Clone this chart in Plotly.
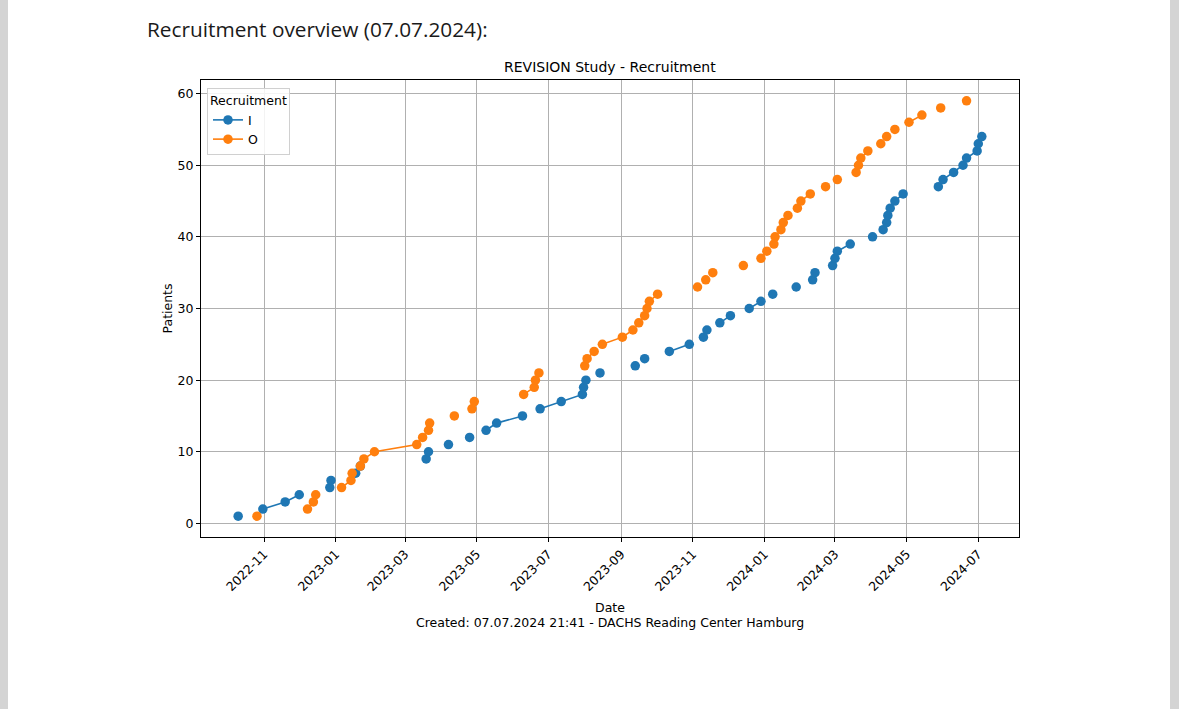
import pandas as pd
import plotly.graph_objects as go

# ---------------- data ----------------
series_names = ["I", "O"]
series_colors = ["#1f77b4", "#ff7f0e"]

dates_I = [
    "2022-10-10", "2022-10-31", "2022-11-19", "2022-12-01", "2022-12-27", "2022-12-28",
    "2023-01-18", "2023-01-22", "2023-03-19", "2023-03-21", "2023-04-07", "2023-04-25",
    "2023-05-09", "2023-05-18", "2023-06-09", "2023-06-24", "2023-07-12", "2023-07-30",
    "2023-07-31", "2023-08-02", "2023-08-14", "2023-09-13", "2023-09-21", "2023-10-12",
    "2023-10-29", "2023-11-10", "2023-11-13", "2023-11-24", "2023-12-03", "2023-12-19",
    "2023-12-29", "2024-01-08", "2024-01-28", "2024-02-11", "2024-02-13", "2024-02-28",
    "2024-03-01", "2024-03-03", "2024-03-14", "2024-04-02", "2024-04-11", "2024-04-14",
    "2024-04-15", "2024-04-17", "2024-04-21", "2024-04-28", "2024-05-28", "2024-06-01",
    "2024-06-10", "2024-06-18", "2024-06-21", "2024-06-30", "2024-07-01", "2024-07-04",
]
patients_I = [
    1, 2, 3, 4, 5, 6, 7, 8, 9, 10, 11, 12, 13, 14, 15, 16, 17, 18,
    19, 20, 21, 22, 23, 24, 25, 26, 27, 28, 29, 30, 31, 32, 33, 34, 35, 36,
    37, 38, 39, 40, 41, 42, 43, 44, 45, 46, 47, 48, 49, 50, 51, 52, 53, 54,
]

dates_O = [
    "2022-10-26", "2022-12-08", "2022-12-13", "2022-12-15", "2023-01-06", "2023-01-14",
    "2023-01-15", "2023-01-22", "2023-01-25", "2023-02-03", "2023-03-11", "2023-03-16",
    "2023-03-21", "2023-03-22", "2023-04-12", "2023-04-27", "2023-04-29", "2023-06-10",
    "2023-06-19", "2023-06-20", "2023-06-23", "2023-08-01", "2023-08-03", "2023-08-09",
    "2023-08-16", "2023-09-02", "2023-09-11", "2023-09-16", "2023-09-21", "2023-09-23",
    "2023-09-25", "2023-10-02", "2023-11-05", "2023-11-12", "2023-11-18", "2023-12-14",
    "2023-12-29", "2024-01-03", "2024-01-09", "2024-01-10", "2024-01-15", "2024-01-17",
    "2024-01-21", "2024-01-29", "2024-02-01", "2024-02-09", "2024-02-22", "2024-03-03",
    "2024-03-19", "2024-03-21", "2024-03-23", "2024-03-29", "2024-04-09", "2024-04-14",
    "2024-04-21", "2024-05-03", "2024-05-14", "2024-05-30", "2024-06-21",
]
patients_O = [
    1, 2, 3, 4, 5, 6, 7, 8, 9, 10, 11, 12, 13, 14, 15, 16, 17, 18,
    19, 20, 21, 22, 23, 24, 25, 26, 27, 28, 29, 30, 31, 32, 33, 34, 35, 36,
    37, 38, 39, 40, 41, 42, 43, 44, 45, 46, 47, 48, 49, 50, 51, 52, 53, 54,
    55, 56, 57, 58, 59,
]

tick_labels = ["2022-11", "2023-01", "2023-03", "2023-05", "2023-07", "2023-09",
               "2023-11", "2024-01", "2024-03", "2024-05", "2024-07"]
y_ticks = [0, 10, 20, 30, 40, 50, 60]

page_heading = "Recruitment overview (07.07.2024):"
chart_title = "REVISION Study - Recruitment"
footer_text = "Created: 07.07.2024 21:41 - DACHS Reading Center Hamburg"

# ---------------- build table (pivot on the union of dates) ----------------
all_dates_raw = {"I": dates_I, "O": dates_O}
all_vals = {"I": patients_I, "O": patients_O}
union = sorted(set(pd.to_datetime(dates_I)) | set(pd.to_datetime(dates_O)))
table = pd.DataFrame(index=pd.DatetimeIndex(union))
for name in series_names:
    s = pd.Series(all_vals[name], index=pd.to_datetime(all_dates_raw[name]))
    table[name] = s.reindex(table.index)

# ---------------- layout geometry ----------------
W, H = 1179, 709
L, R, T, B = 201, 1019, 80, 537
pw, ph = R - L, B - T

def px(x):
    return (x - L) / pw

def py(y):
    return (B - y) / ph

font_mpl = "DejaVu Sans"

fig = go.Figure()
for name, color in zip(series_names, series_colors):
    col = table[name]
    fig.add_trace(go.Scatter(
        x=table.index,
        y=[None if pd.isna(v) else v for v in col],
        mode="lines+markers",
        name=name,
        connectgaps=False,
        line=dict(color=color, width=1.6),
        marker=dict(color=color, size=9.5),
    ))

# axis ranges with 5% margins like matplotlib
dmin, dmax = table.index.min(), table.index.max()
span = dmax - dmin
x_range = [dmin - 0.05 * span, dmax + 0.05 * span]
all_y = patients_I + patients_O
ymin, ymax = min(all_y), max(all_y)
yspan = ymax - ymin
y_range = [ymin - 0.05 * yspan, ymax + 0.05 * yspan]

tick_vals = [pd.Timestamp(t + "-01") for t in tick_labels]

axis_common = dict(
    showline=True, linecolor="black", linewidth=1, mirror=True,
    ticks="outside", ticklen=4, tickcolor="black", tickwidth=1,
    showgrid=True, gridcolor="#b0b0b0", gridwidth=1, zeroline=False,
    tickfont=dict(family=font_mpl, size=12.5, color="black"),
)

fig.update_layout(
    width=W, height=H, autosize=False,
    margin=dict(l=L, r=W - R, t=T, b=H - B, pad=0),
    paper_bgcolor="white", plot_bgcolor="white",
    showlegend=True,
    legend=dict(
        x=px(207), y=py(88), xanchor="left", yanchor="top",
        bgcolor="rgba(255,255,255,0.85)", bordercolor="#d0d0d0", borderwidth=1,
        title=dict(text="Recruitment", font=dict(family=font_mpl, size=12.5, color="black")),
        font=dict(family=font_mpl, size=12.5, color="black"),
        itemwidth=30, tracegroupgap=0,
    ),
    xaxis=dict(range=x_range, tickvals=tick_vals, ticktext=tick_labels, tickangle=-45,
               **axis_common),
    yaxis=dict(range=y_range, tickvals=y_ticks, **axis_common),
)

annotations = [
    dict(text=page_heading, x=px(145), y=py(29), xanchor="left", yanchor="middle",
         font=dict(family="Open Sans", size=20.8, color="#1a1a1a")),
    dict(text=chart_title, x=0.5, y=py(67), xanchor="center", yanchor="middle",
         font=dict(family=font_mpl, size=14, color="black")),
    dict(text="Patients", x=px(167), y=0.5, xanchor="center", yanchor="middle",
         textangle=-90, font=dict(family=font_mpl, size=12.5, color="black")),
    dict(text="Date", x=0.5, y=py(607), xanchor="center", yanchor="middle",
         font=dict(family=font_mpl, size=12.5, color="black")),
    dict(text=footer_text, x=0.5, y=py(622), xanchor="center", yanchor="middle",
         font=dict(family=font_mpl, size=12.5, color="black")),
]
for a in annotations:
    a.update(xref="paper", yref="paper", showarrow=False)
fig.update_layout(annotations=annotations)

# grey viewer strips at the page edges
fig.update_layout(shapes=[
    dict(type="rect", xref="paper", yref="paper", x0=px(0), x1=px(8), y0=py(H), y1=py(0),
         fillcolor="#d4d4d4", line=dict(width=0), layer="below"),
    dict(type="rect", xref="paper", yref="paper", x0=px(1170), x1=px(W), y0=py(H), y1=py(0),
         fillcolor="#d4d4d4", line=dict(width=0), layer="below"),
])

fig.write_html("out.html", config={"displayModeBar": False},
               post_script="document.body.style.margin='0';document.body.style.overflow='hidden';")
